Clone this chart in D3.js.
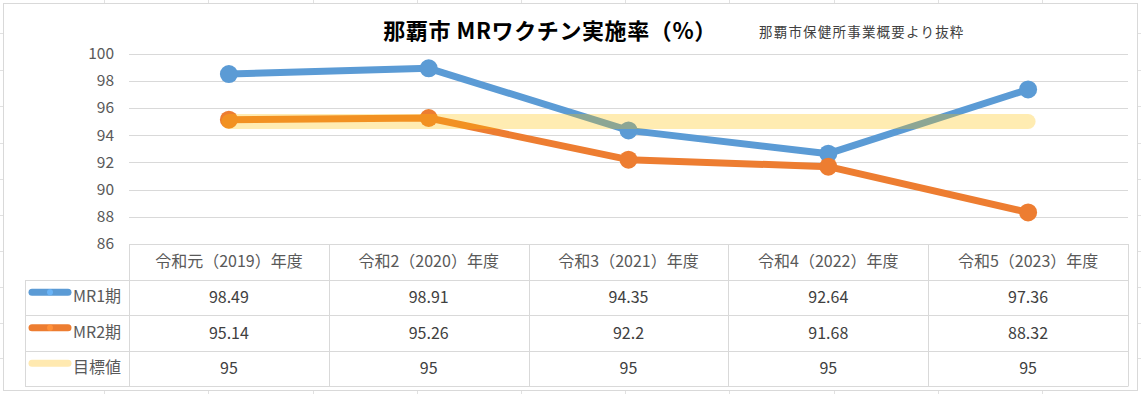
<!DOCTYPE html>
<html>
<head>
<meta charset="utf-8">
<script src="https://cdn.jsdelivr.net/npm/d3@7"></script>
<style>
html, body { margin: 0; padding: 0; background: #fff; }
svg { display: block; }
text { font-family: "Noto Sans CJK JP", "Noto Sans", sans-serif; }
</style>
</head>
<body>
<svg id="chart" width="1141" height="394"></svg>
<script>
const categories = ["令和元（2019）年度", "令和2（2020）年度", "令和3（2021）年度", "令和4（2022）年度", "令和5（2023）年度"];
const mr1 = [98.49, 98.91, 94.35, 92.64, 97.36];
const mr2 = [95.14, 95.26, 92.2, 91.68, 88.32];
const target = [95, 95, 95, 95, 95];
const seriesNames = ["MR1期", "MR2期", "目標値"];
const yTicks = [86, 88, 90, 92, 94, 96, 98, 100];
const title = "那覇市 MRワクチン実施率（%）";
const subtitle = "那覇市保健所事業概要より抜粋";

const W = 1141, H = 394;
const svg = d3.select("#chart");

// spreadsheet background grid
const sheetCols = d3.range(1, 12).map(i => i * 104.2);
const sheetRows = [33, 70, 106, 143, 179, 215, 251, 287, 323, 358];
svg.append("g").selectAll("line.c").data(sheetCols).join("line")
  .attr("x1", d => Math.round(d) + 0.5).attr("x2", d => Math.round(d) + 0.5)
  .attr("y1", 0).attr("y2", H).attr("stroke", "#E1E1E1");
svg.append("g").selectAll("line.r").data(sheetRows).join("line")
  .attr("y1", d => d + 0.5).attr("y2", d => d + 0.5)
  .attr("x1", 0).attr("x2", W).attr("stroke", "#E1E1E1");

// chart area
svg.append("rect").attr("x", 3.5).attr("y", 3.5).attr("width", 1134).attr("height", 387)
  .attr("fill", "#fff").attr("stroke", "#D9D9D9");

const x = d3.scaleBand().domain(categories).range([129, 1128]);
const cx = c => x(c) + x.bandwidth() / 2;
const y = d3.scaleLinear().domain([86, 100]).range([244, 53.5]);

// title
svg.append("text").attr("x", 550).attr("y", 39).attr("text-anchor", "middle")
  .attr("font-size", 22).attr("font-weight", "bold").attr("letter-spacing", 0.6)
  .attr("fill", "#000").text(title);
svg.append("text").attr("x", 759).attr("y", 37)
  .attr("font-size", 13.5).attr("letter-spacing", 1.2).attr("fill", "#404040").text(subtitle);

// gridlines
svg.append("g").selectAll("line").data(yTicks.filter(t => t > 86)).join("line")
  .attr("x1", 129).attr("x2", 1128)
  .attr("y1", d => Math.round(y(d)) + 0.5).attr("y2", d => Math.round(y(d)) + 0.5)
  .attr("stroke", "#D9D9D9");

// y axis labels
const yAxis = d3.axisLeft(y).tickValues(yTicks).tickSize(0).tickPadding(0);
const yg = svg.append("g").attr("transform", "translate(114,0)").call(yAxis);
yg.select(".domain").remove();
yg.selectAll("text").attr("font-size", 15.5).attr("fill", "#595959")
  .attr("font-family", "\"Noto Sans CJK JP\", sans-serif");

// lines
const line = d3.line().x((d, i) => cx(categories[i])).y(d => y(d));
svg.append("path").datum(mr1).attr("d", line).attr("fill", "none")
  .attr("stroke", "#5B9BD5").attr("stroke-width", 7).attr("stroke-linejoin", "round");
svg.append("g").selectAll("circle").data(mr1).join("circle")
  .attr("cx", (d, i) => cx(categories[i])).attr("cy", d => y(d)).attr("r", 9).attr("fill", "#5B9BD5");
svg.append("path").datum(mr2).attr("d", line).attr("fill", "none")
  .attr("stroke", "#ED7D31").attr("stroke-width", 7).attr("stroke-linejoin", "round");
svg.append("g").selectAll("circle").data(mr2).join("circle")
  .attr("cx", (d, i) => cx(categories[i])).attr("cy", d => y(d)).attr("r", 9).attr("fill", "#ED7D31");
svg.append("path").datum(target).attr("d", line).attr("fill", "none")
  .attr("stroke", "#FFC000").attr("stroke-opacity", 0.3).attr("stroke-width", 15)
  .attr("stroke-linecap", "round");

// data table
const tg = svg.append("g");
const rowTop = [244, 279.5, 315, 350.5, 386];
const bc = "#D9D9D9";
tg.append("line").attr("x1", 129).attr("x2", 1128).attr("y1", 244.5).attr("y2", 244.5).attr("stroke", bc);
[279.5, 315, 350.5, 386].forEach(r => {
  tg.append("line").attr("x1", 25).attr("x2", 1128).attr("y1", Math.round(r) + 0.5).attr("y2", Math.round(r) + 0.5).attr("stroke", bc);
});
const vx = [129].concat(categories.map(c => x(c) + x.bandwidth()));
vx.forEach(v => {
  tg.append("line").attr("x1", Math.round(v) + 0.5).attr("x2", Math.round(v) + 0.5)
    .attr("y1", 244).attr("y2", 386.5).attr("stroke", bc);
});
tg.append("line").attr("x1", 25.5).attr("x2", 25.5).attr("y1", 280).attr("y2", 386.5).attr("stroke", bc);

tg.selectAll("text.cat").data(categories).join("text")
  .attr("x", d => cx(d)).attr("y", 267).attr("text-anchor", "middle")
  .attr("font-size", 16).attr("fill", "#595959").text(d => d);

const rows = [mr1, mr2, target];
const rowColors = ["#5B9BD5", "#ED7D31", "#FFE9B0"];
rows.forEach((vals, ri) => {
  const top = rowTop[ri + 1], bot = rowTop[ri + 2];
  const mid = (top + bot) / 2;
  tg.selectAll("text.v" + ri).data(vals).join("text")
    .attr("x", (d, i) => cx(categories[i])).attr("y", mid + 6).attr("text-anchor", "middle")
    .attr("font-size", 16).attr("fill", "#404040").text(d => d);
  tg.append("line").attr("x1", 32).attr("x2", 68).attr("y1", mid - 5).attr("y2", mid - 5)
    .attr("stroke", rowColors[ri]).attr("stroke-width", 7).attr("stroke-linecap", "round");
  if (ri < 2) {
    tg.append("circle").attr("cx", 50).attr("cy", mid - 5).attr("r", 3)
      .attr("fill", d3.color(rowColors[ri]).brighter(0.4));
  }
  tg.append("text").attr("x", 73).attr("y", mid + 5).attr("font-size", 16)
    .attr("fill", "#595959").text(seriesNames[ri]);
});
</script>
</body>
</html>
